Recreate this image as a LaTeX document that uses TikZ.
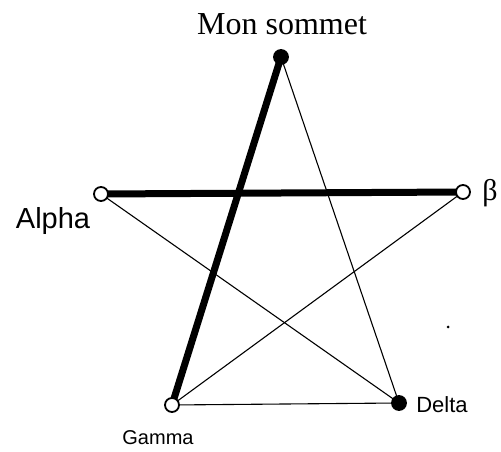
\documentclass[tikz,border=0pt]{standalone}
\usepackage{fontspec}
\setmainfont{Liberation Serif}
\newfontfamily\sansf{Liberation Sans}
\begin{document}
\begin{tikzpicture}[x=1pt,y=1pt,
  vtx/.style={circle,draw=black,line width=1.8pt,inner sep=0pt,minimum size=14pt},
  openv/.style={vtx,fill=white},
  fullv/.style={vtx,fill=black},
  thickedge/.style={line width=7pt},
  thinedge/.style={line width=1.1pt},
  lbl/.style={inner sep=0pt}]
\useasboundingbox (0,0) rectangle (501,452);
\coordinate (pT) at (281,395);
\coordinate (pA) at (101,258);
\coordinate (pB) at (463,260);
\coordinate (pG) at (172,47);
\coordinate (pD) at (399,49);
% edges
\draw[thinedge] (pT) -- (pD);
\draw[thinedge] (pA) -- (pD);
\draw[thinedge] (pB) -- (pG);
\draw[thinedge] (pG) -- (pD);
\draw[thickedge] (pA) -- (pB);
\draw[thickedge] (pT) -- (pG);
% vertices
\node[fullv] (top) at (pT) {};
\node[openv] (alpha) at (pA) {};
\node[openv] (beta) at (pB) {};
\node[openv] (gamma) at (pG) {};
\node[fullv] (delta) at (pD) {};
% labels
\node[lbl,font=\fontsize{32}{36}\selectfont] (ltop) at (282,428) {Mon sommet};
\node[lbl,font=\sansf\fontsize{29}{32}\selectfont] (lalpha) at (53,231) {Alpha};
\node[lbl,font=\fontsize{30}{32}\selectfont] (lbeta) at (490,259) {β};
\node[lbl,font=\sansf\fontsize{20}{22}\selectfont] (lgamma) at (158,14) {Gamma};
\node[lbl,font=\sansf\fontsize{22}{24}\selectfont] (ldelta) at (442,47) {Delta};
\fill (448,125) circle (1.5);
\end{tikzpicture}
\end{document}
